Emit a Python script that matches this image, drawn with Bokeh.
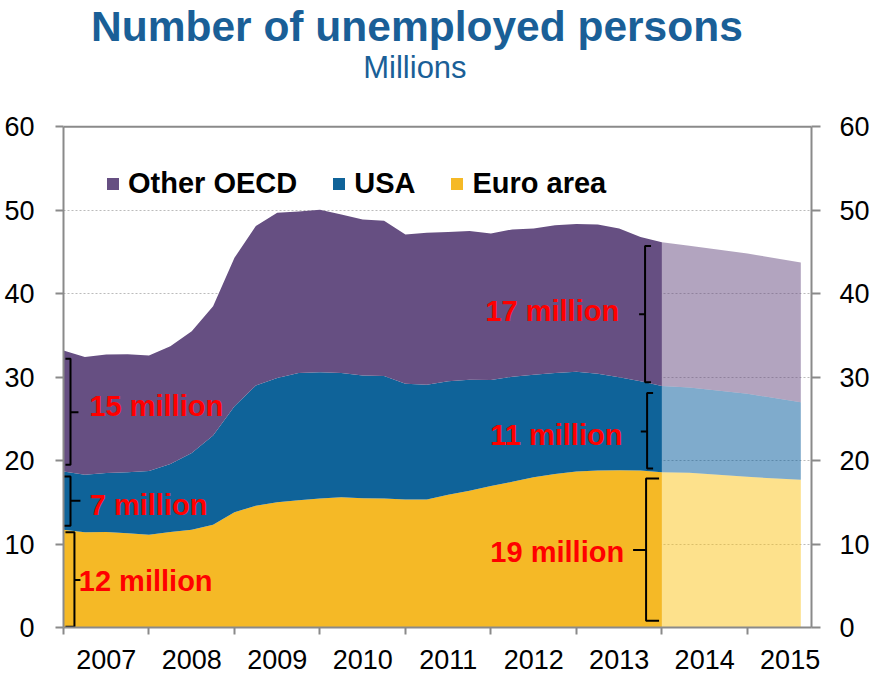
from bokeh.plotting import figure
from bokeh.models import ColumnDataSource, Range1d, LinearAxis, FixedTicker, Span, Legend, LegendItem
from bokeh.core.properties import value
from bokeh.embed import file_html
from bokeh.resources import INLINE

# ---------------- data (millions of persons) ----------------
year_labels = ["2007", "2008", "2009", "2010", "2011", "2012", "2013", "2014", "2015"]
year_starts = [2007, 2008, 2009, 2010, 2011, 2012, 2013, 2014, 2015]

# quarterly history, 2007Q1 .. 2014Q1
hist_quarters = 29
euro_hist = [11.7, 11.4, 11.45, 11.3, 11.1, 11.45, 11.7, 12.3, 13.8, 14.6, 15.0, 15.25, 15.45, 15.6,
             15.5, 15.45, 15.35, 15.35, 15.9, 16.4, 16.95, 17.45, 18.0, 18.4, 18.7, 18.8, 18.85, 18.8, 18.6]
usa_hist = [7.0, 6.9, 7.05, 7.3, 7.65, 8.15, 9.2, 10.7, 12.7, 14.4, 14.9, 15.25, 15.15, 14.9,
            14.7, 14.7, 13.85, 13.75, 13.6, 13.3, 12.7, 12.6, 12.3, 12.1, 11.95, 11.6, 11.15, 10.7, 10.35]
other_hist = [14.5, 14.1, 14.2, 14.15, 13.85, 14.1, 14.6, 15.5, 17.8, 19.1, 19.8, 19.35, 19.45, 19.0,
              18.7, 18.6, 17.9, 18.2, 17.9, 17.8, 17.55, 17.65, 17.5, 17.7, 17.7, 17.9, 17.8, 17.3, 17.2]

# projection
proj_x = [2014.0, 2014.32, 2015.0, 2015.625]
euro_proj = [18.6, 18.55, 18.05, 17.7]
usa_proj = [10.35, 10.2, 9.95, 9.3]
other_proj = [17.2, 17.0, 16.8, 16.75]

series_keys = ["euro", "usa", "other"]
series_names = ["Euro area", "USA", "Other OECD"]
y_ticks = [0, 10, 20, 30, 40, 50, 60]
grid_ticks = [10, 20, 30, 40, 50]

# bracket annotations: label, x of bar, x of hooks, x of nub, low, high, mid
ann_labels = ["15 million", "7 million", "12 million", "17 million", "11 million", "19 million"]
ann_text_x = [2007.303, 2007.307, 2007.179, 2013.50, 2013.538, 2013.558]
ann_text_y = [26.60, 14.62, 5.63, 37.90, 23.01, 9.03]
ann_align = ["left", "left", "left", "right", "right", "right"]
br_x = [2007.082, 2007.082, 2007.128, 2013.803, 2013.827, 2013.815]
br_hook = [2007.023, 2007.0, 2007.023, 2013.873, 2013.897, 2013.967]
br_nub = [2007.175, 2007.198, 2007.198, 2013.733, 2013.753, 2013.663]
br_lo = [19.5, 12.2, 0.1, 29.4, 19.05, 0.8]
br_hi = [32.2, 18.1, 11.4, 45.7, 28.1, 17.85]
br_mid = [25.8, 15.2, 5.7, 37.55, 23.5, 9.3]

# ---------------- styles ----------------
colors = ["#F5B926", "#0F6399", "#664F82"]
proj_colors = ["#FBC31A", "#00579A", "#66497F"]
title_color = "#1A5F97"
axis_color = "#8A8A8A"
FONT = "Liberation Sans"

hist_src = ColumnDataSource(dict(
    x=[2007 + i / 4 for i in range(hist_quarters)],
    euro=euro_hist, usa=usa_hist, other=other_hist))
proj_src = ColumnDataSource(dict(x=proj_x, euro=euro_proj, usa=usa_proj, other=other_proj))

p = figure(width=872, height=678, output_backend="svg", toolbar_location=None,
           x_range=Range1d(2007, 2015.75), y_range=Range1d(0, 75.13),
           min_border_left=63, min_border_right=59, min_border_top=0, min_border_bottom=51,
           outline_line_color=None, background_fill_color="white", border_fill_color="white")

hist_r = p.varea_stack(series_keys, x="x", source=hist_src, color=colors)
proj_r = p.varea_stack(series_keys, x="x", source=proj_src, color=proj_colors, fill_alpha=0.5)

# top border of plot area
p.add_layout(Span(location=60, dimension="width", line_color=axis_color, line_width=2))

# grid
p.xgrid.visible = False
p.ygrid.ticker = FixedTicker(ticks=grid_ticks)
p.ygrid.grid_line_color = "#BBBBBB"
p.ygrid.grid_line_dash = "2 2"
p.ygrid.grid_line_width = 1.2

# axes
yt = FixedTicker(ticks=y_ticks, minor_ticks=[])
p.add_layout(LinearAxis(), "right")
for ax, standoff, tick in ((p.yaxis[0], 21, 8), (p.yaxis[1], 19, 9)):
    ax.ticker = yt
    ax.bounds = (0, 60)
    ax.axis_line_color = axis_color
    ax.axis_line_width = 2
    ax.major_tick_line_color = axis_color
    ax.major_tick_line_width = 2
    ax.major_tick_out = tick
    ax.major_tick_in = 0
    ax.minor_tick_line_color = None
    ax.major_label_standoff = standoff
    ax.major_label_text_font = FONT
    ax.major_label_text_font_size = "27px"
    ax.major_label_text_color = "black"

xa = p.xaxis[0]
mid_ticks = [y + 0.5 for y in year_starts]
xa.ticker = FixedTicker(ticks=mid_ticks, minor_ticks=year_starts)
xa.major_label_overrides = {t: lab for t, lab in zip(mid_ticks, year_labels)}
xa.axis_line_color = axis_color
xa.axis_line_width = 2
xa.major_tick_line_color = None
xa.major_tick_out = 0
xa.major_tick_in = 0
xa.minor_tick_line_color = axis_color
xa.minor_tick_line_width = 2
xa.minor_tick_out = 7
xa.minor_tick_in = 0
xa.major_label_standoff = 15
xa.major_label_text_font = FONT
xa.major_label_text_font_size = "27px"
xa.major_label_text_color = "black"

# brackets
xs, ys = [], []
for x0, xh, xn, lo, hi, mid in zip(br_x, br_hook, br_nub, br_lo, br_hi, br_mid):
    xs.append([xh, x0, x0, xn, x0, x0, xh])
    ys.append([hi, hi, mid, mid, mid, lo, lo])
p.multi_line(xs=xs, ys=ys, line_color="black", line_width=2)

# bracket labels
for align in ("left", "right"):
    idx = [i for i, a in enumerate(ann_align) if a == align]
    p.text(x=[ann_text_x[i] for i in idx], y=[ann_text_y[i] for i in idx],
           text=[ann_labels[i] for i in idx], text_align=align, text_baseline="alphabetic",
           text_color="#FF0000", text_font=value(FONT), text_font_style="bold",
           text_font_size="29px")

# titles
p.text(x=[2011.134], y=[72.02], text=["Number of unemployed persons"], text_align="center",
       text_baseline="alphabetic", text_color=title_color, text_font=value(FONT),
       text_font_style="bold", text_font_size="42.5px")
p.text(x=[2011.111], y=[67.07], text=["Millions"], text_align="center",
       text_baseline="alphabetic", text_color=title_color, text_font=value(FONT),
       text_font_size="31px")

# legend
items = [LegendItem(label=series_names[i], renderers=[hist_r[i]]) for i in (2, 1, 0)]
legend = Legend(items=items, orientation="horizontal", location=(42, 427),
                glyph_width=15, glyph_height=15, label_standoff=8, spacing=34,
                padding=0, margin=0, border_line_alpha=0, background_fill_alpha=0,
                label_text_font=FONT, label_text_font_style="bold",
                label_text_font_size="29px", label_text_color="black")
p.add_layout(legend)

open("out.html", "w").write(file_html(p, INLINE))
